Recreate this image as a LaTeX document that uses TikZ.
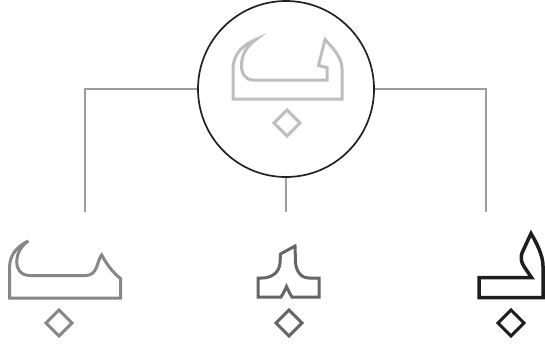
\documentclass[tikz,border=0pt]{standalone}
\definecolor{linegray}{HTML}{9E9E9E}
\definecolor{ringdark}{HTML}{222222}
\definecolor{gA}{HTML}{BEBEBE}
\definecolor{gB}{HTML}{878787}
\definecolor{gC}{HTML}{666666}
\definecolor{gD}{HTML}{1E1E1E}
\tikzset{
  connector/.style={draw=linegray, line width=1.5pt},
  ring/.style={draw=ringdark, line width=1.7pt, circle, minimum size=176pt, inner sep=0pt},
  glyph/.style={line width=3pt, line join=miter, miter limit=10},
}
\newcommand{\dmd}[3]{\draw[glyph,draw=#3] (#1,#2-13) -- (#1+13,#2) -- (#1,#2+13) -- (#1-13,#2) -- cycle;}
\begin{document}
\begin{tikzpicture}[x=1pt,y=-1pt]
\useasboundingbox (0,0) rectangle (545,343);
\fill[white] (0,0) rectangle (545,343);
% root circle and connectors
\node[ring] (root) at (286,89) {};
\coordinate (cl) at (85,212);
\coordinate (cm) at (286,212);
\coordinate (cr) at (486,212);
\draw[connector] (root.west) -| (cl);
\draw[connector] (root.south) -- (cm);
\draw[connector] (root.east) -| (cr);
% isolated form (top)
\draw[glyph, draw=gA] (256,39.5) .. controls (245,44) and (233,52) .. (233,70) -- (233,99) -- (342,99) -- (342,68)
  .. controls (342,58) and (333,48) .. (325,39.5) -- (318.5,65.5) -- (327,67.5) -- (327,80) -- (253,80)
  .. controls (245,80) and (241,73) .. (241.5,64) .. controls (242,54) and (247,46) .. (256,39.5) -- cycle;
\dmd{287}{123}{gA}
% final form (left)
\draw[glyph, draw=gB] (28.3,241) .. controls (18,246) and (9.5,254) .. (9.5,268) -- (9.5,298) -- (120.5,298) -- (120.5,278.5)
  .. controls (112,272) and (106,263) .. (101.7,255) .. controls (97,260) and (98,275.5) .. (86,275.5) -- (30,275.5)
  .. controls (20,275.5) and (16.5,268) .. (16.7,262) .. controls (17,253) and (21,246) .. (28.3,241) -- cycle;
\dmd{59}{323}{gB}
% medial form (middle)
\draw[glyph, draw=gC] (295,246) -- (280.5,254) -- (280,263) .. controls (279.5,272) and (272,278) .. (262,278) -- (258,278) -- (258,297)
  -- (281,297) .. controls (283,294) and (285,290) .. (286.5,286.5) .. controls (288,290) and (290,294) .. (292,297)
  -- (319,297) -- (319,278) -- (309,278) .. controls (300,278) and (296,270) .. (295.5,262) -- cycle;
\dmd{289}{323}{gC}
% initial form (right)
\draw[glyph, draw=gD, line width=3.5pt] (531,233.5) .. controls (536,242) and (543,255) .. (543,266) -- (543,297.5) -- (479,297.5) -- (479,277.5)
  -- (531.5,277.5) -- (524,266.5) .. controls (521,262) and (520.5,257) .. (522,253) -- cycle;
\dmd{511}{323}{gD}
\end{tikzpicture}
\end{document}
